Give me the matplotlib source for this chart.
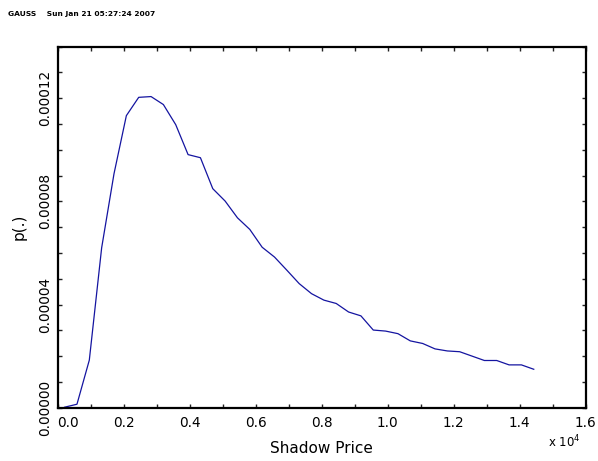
import numpy as np
import matplotlib
matplotlib.use('Agg')
import matplotlib.pyplot as plt
from matplotlib.ticker import MultipleLocator

# shadow price bins (x 10^4) and density p(.)
price = [215, 589, 963, 1337, 1711, 2085, 2459, 2833, 3207, 3581, 3955, 4329, 4703,
         5077, 5451, 5825, 6199, 6573, 6947, 7321, 7695, 8069, 8443, 8817, 9191, 9565,
         9939, 10313, 10687, 11061, 11435, 11809, 12183, 12557, 12931, 13305, 13679,
         14053, 14427]
density = [0.2e-6, 1.35e-6, 1.845e-5, 6.20e-5, 9.07e-5, 1.132e-4, 1.203e-4, 1.206e-4,
           1.175e-4, 1.097e-4, 9.81e-5, 9.69e-5, 8.49e-5, 8.01e-5, 7.36e-5, 6.91e-5,
           6.22e-5, 5.84e-5, 5.33e-5, 4.81e-5, 4.42e-5, 4.17e-5, 4.04e-5, 3.71e-5,
           3.56e-5, 3.01e-5, 2.97e-5, 2.87e-5, 2.59e-5, 2.49e-5, 2.28e-5, 2.20e-5,
           2.17e-5, 2.00e-5, 1.83e-5, 1.83e-5, 1.66e-5, 1.66e-5, 1.49e-5]
header = 'GAUSS    Sun Jan 21 05:27:24 2007'

plt.rcParams['font.family'] = ['DejaVu Sans']

fig = plt.figure(figsize=(5.98, 4.61), dpi=100)
ax = fig.add_axes([0.0962, 0.1156, 0.8832, 0.7835])

x = np.array(price) / 1e4
ax.plot(x, density, color='#1414a0', lw=0.9)

ax.set_xlim(0, 1.6)
ax.set_ylim(0, 0.00014)
ax.xaxis.set_minor_locator(MultipleLocator(0.1))
ax.yaxis.set_minor_locator(MultipleLocator(0.00001))
ax.set_xticks(np.arange(0, 1.61, 0.2))
ax.set_xticklabels(['%.1f' % v for v in np.arange(0, 1.61, 0.2)])
ax.set_yticks([0, 0.00004, 0.00008, 0.00012])
ax.set_yticklabels(['0.00000', '0.00004', '0.00008', '0.00012'],
                   rotation=90, va='center')
ax.xaxis.get_majorticklabels()[0].set_horizontalalignment('left')

ax.tick_params(which='both', direction='in', length=3, width=1,
               top=True, right=True, labelsize=9.8, color='#222222')
ax.tick_params(axis='x', pad=6)
ax.tick_params(axis='y', pad=4)
for s in ax.spines.values():
    s.set_linewidth(1.6)

ax.set_xlabel('Shadow Price', fontsize=11, labelpad=8)
ax.set_ylabel('p(.)', fontsize=11, labelpad=8)
fig.text(0.917, 0.03, r'x 10$^4$', fontsize=8.5)
fig.text(0.013, 0.966, header, fontsize=5.4, fontweight='bold')

fig.savefig('out.png', dpi=100)
